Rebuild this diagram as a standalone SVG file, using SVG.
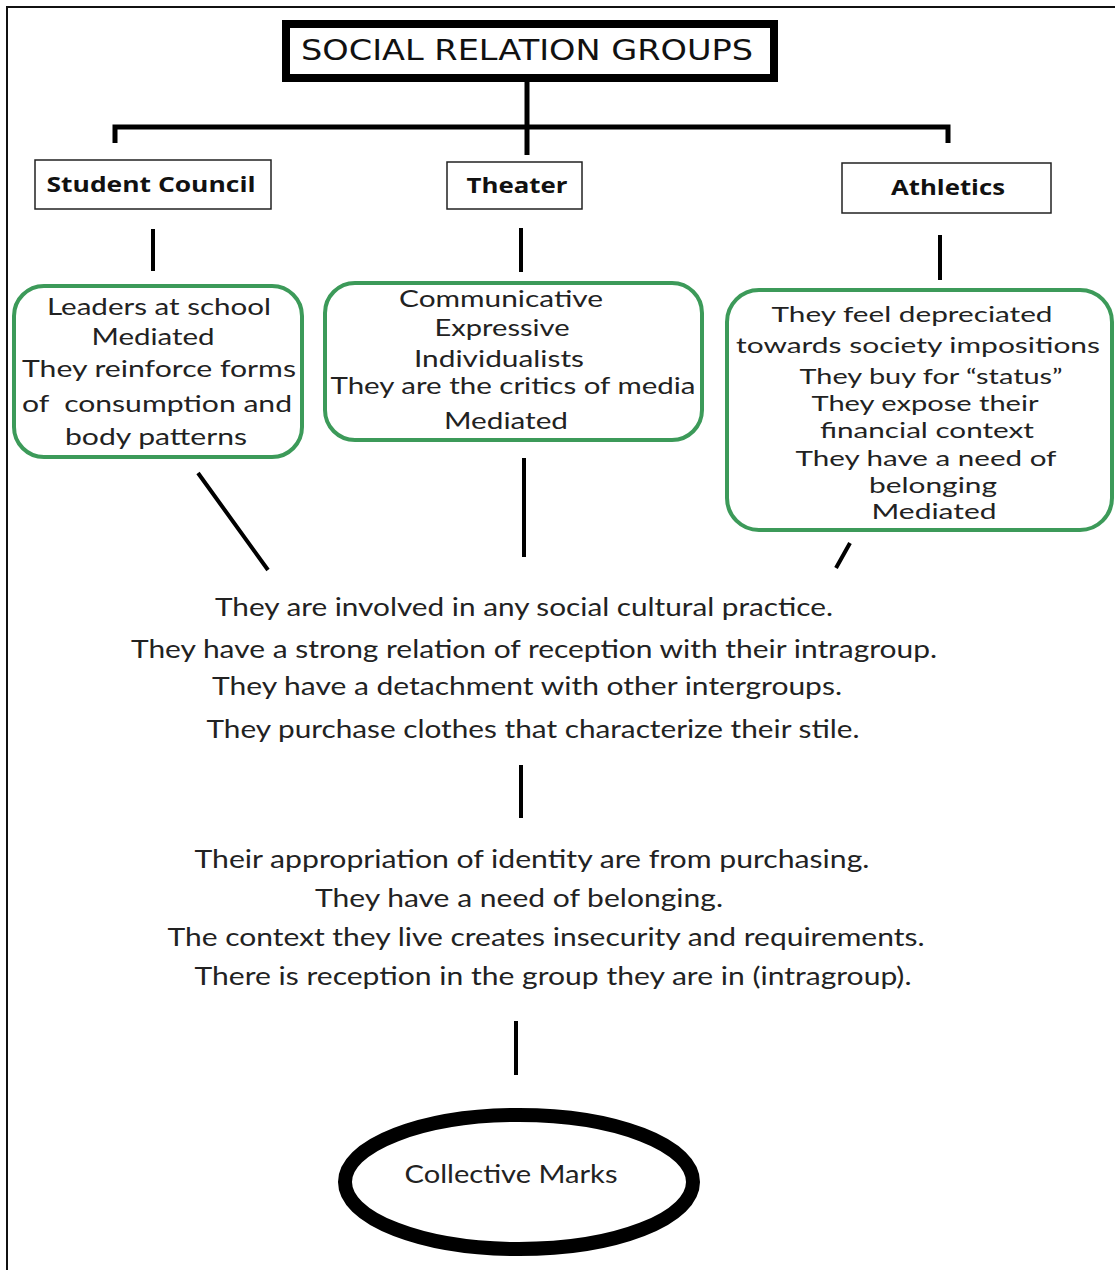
<svg xmlns="http://www.w3.org/2000/svg" width="1115" height="1270" viewBox="0 0 1115 1270">
<style>
.t{font-family:"Lato","Open Sans","Liberation Sans",sans-serif;font-size:25px;fill:#222;text-anchor:middle}
.s{font-size:23px}
.u{font-size:22px}
.b{font-family:"Open Sans","Liberation Sans",sans-serif;font-size:21px;font-weight:bold;fill:#111;text-anchor:middle}
.g{fill:#fff;stroke:#3c9a59;stroke-width:4}
.r{fill:#fff;stroke:#222;stroke-width:1.5}
.c{stroke:#000;stroke-width:4;fill:none}
</style>
<rect width="1115" height="1270" fill="#fff"/>
<path d="M7,1270 V7 H1115" fill="none" stroke="#111" stroke-width="2"/>
<g id="connectors" class="c">
<path d="M527,80 V155 M115,143 V127 H948 V143" stroke-width="5"/>
<path d="M153,229 V271 M521,228 V272 M940,235 V280"/>
<path d="M198,473 L268,570 M524,458 V557 M850,543 L836,568"/>
<path d="M521,765 V818 M516,1021 V1075"/>
</g>
<g id="title">
<rect x="286" y="24" width="488" height="54" fill="#fff" stroke="#000" stroke-width="8"/>
<text x="527" y="60" font-family="'DejaVu Sans',sans-serif" font-size="29" fill="#111" text-anchor="middle" textLength="452" lengthAdjust="spacingAndGlyphs">SOCIAL RELATION GROUPS</text>
</g>
<g id="student-council">
<rect class="r" x="35" y="160" width="236" height="49"/>
<text class="b" x="151" y="192" textLength="209" lengthAdjust="spacingAndGlyphs">Student Council</text>
</g>
<g id="theater">
<rect class="r" x="447" y="162" width="135" height="47"/>
<text class="b" x="517" y="193" textLength="101" lengthAdjust="spacingAndGlyphs">Theater</text>
</g>
<g id="athletics">
<rect class="r" x="842" y="163" width="209" height="50"/>
<text class="b" x="948" y="195" textLength="114" lengthAdjust="spacingAndGlyphs">Athletics</text>
</g>
<g id="student-council-traits">
<rect class="g" x="14" y="286" width="288" height="171" rx="30"/>
<text class="t s" x="159" y="315" textLength="224" lengthAdjust="spacingAndGlyphs">Leaders at school</text>
<text class="t s" x="153" y="345" textLength="123" lengthAdjust="spacingAndGlyphs">Mediated</text>
<text class="t s" x="159" y="377" textLength="274" lengthAdjust="spacingAndGlyphs">They reinforce forms</text>
<text class="t s" x="157" y="412" textLength="270" lengthAdjust="spacingAndGlyphs">of&#160; consumption and</text>
<text class="t s" x="156" y="445" textLength="182" lengthAdjust="spacingAndGlyphs">body patterns</text>
</g>
<g id="theater-traits">
<rect class="g" x="325" y="283" width="377" height="157" rx="30"/>
<text class="t s" x="501" y="307" textLength="204" lengthAdjust="spacingAndGlyphs">Communicative</text>
<text class="t s" x="502" y="336" textLength="135" lengthAdjust="spacingAndGlyphs">Expressive</text>
<text class="t s" x="499" y="367" textLength="170" lengthAdjust="spacingAndGlyphs">Individualists</text>
<text class="t s" x="513" y="394" textLength="365" lengthAdjust="spacingAndGlyphs">They are the critics of media</text>
<text class="t s" x="506" y="429" textLength="124" lengthAdjust="spacingAndGlyphs">Mediated</text>
</g>
<g id="athletics-traits">
<rect class="g" x="727" y="290" width="385" height="240" rx="32"/>
<text class="t u" x="912" y="322" textLength="281" lengthAdjust="spacingAndGlyphs">They feel depreciated</text>
<text class="t u" x="918" y="353" textLength="364" lengthAdjust="spacingAndGlyphs">towards society impositions</text>
<text class="t u" x="931" y="384" textLength="263" lengthAdjust="spacingAndGlyphs">They buy for “status”</text>
<text class="t u" x="925" y="411" textLength="227" lengthAdjust="spacingAndGlyphs">They expose their</text>
<text class="t u" x="927" y="438" textLength="214" lengthAdjust="spacingAndGlyphs">financial context</text>
<text class="t u" x="926" y="466" textLength="261" lengthAdjust="spacingAndGlyphs">They have a need of</text>
<text class="t u" x="933" y="493" textLength="128" lengthAdjust="spacingAndGlyphs">belonging</text>
<text class="t u" x="934" y="519" textLength="125" lengthAdjust="spacingAndGlyphs">Mediated</text>
</g>
<g id="shared-traits">
<text class="t" x="524" y="616" textLength="618" lengthAdjust="spacingAndGlyphs">They are involved in any social cultural practice.</text>
<text class="t" x="534" y="658" textLength="806" lengthAdjust="spacingAndGlyphs">They have a strong relation of reception with their intragroup.</text>
<text class="t" x="527" y="695" textLength="630" lengthAdjust="spacingAndGlyphs">They have a detachment with other intergroups.</text>
<text class="t" x="533" y="738" textLength="653" lengthAdjust="spacingAndGlyphs">They purchase clothes that characterize their stile.</text>
</g>
<g id="identity">
<text class="t" x="532" y="868" textLength="675" lengthAdjust="spacingAndGlyphs">Their appropriation of identity are from purchasing.</text>
<text class="t" x="519" y="907" textLength="408" lengthAdjust="spacingAndGlyphs">They have a need of belonging.</text>
<text class="t" x="546" y="946" textLength="757" lengthAdjust="spacingAndGlyphs">The context they live creates insecurity and requirements.</text>
<text class="t" x="553" y="985" textLength="717" lengthAdjust="spacingAndGlyphs">There is reception in the group they are in (intragroup).</text>
</g>
<g id="collective-marks">
<ellipse cx="519" cy="1182" rx="174" ry="67" fill="#fff" stroke="#000" stroke-width="14"/>
<text class="t" x="511" y="1183" textLength="213" lengthAdjust="spacingAndGlyphs">Collective Marks</text>
</g>
</svg>
